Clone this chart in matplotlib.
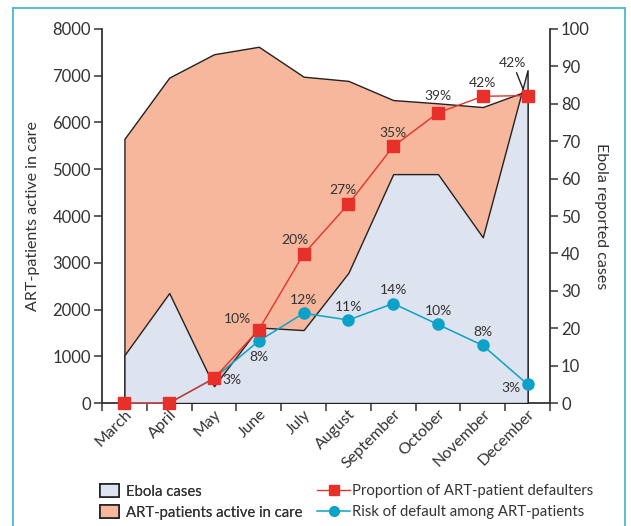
import matplotlib
matplotlib.use("Agg")
import matplotlib.pyplot as plt
from matplotlib.lines import Line2D
from matplotlib.patches import Patch

plt.rcParams["font.family"] = ["Lato", "DejaVu Sans"]

months = ["March", "April", "May", "June", "July", "August",
          "September", "October", "November", "December"]
art_active = [5650, 6960, 7460, 7620, 6980, 6890, 6480, 6410, 6330, 6680]
ebola_cases = [12.8, 29.4, 4.5, 20.2, 19.5, 34.8, 61.2, 61.2, 44.3, 89.0]
defaulter_pct = [0, 0, 3.3, 9.8, 19.9, 26.6, 34.3, 38.8, 41.0, 41.1]
risk_pct = [0, 0, 3.3, 8.3, 12.0, 11.1, 13.3, 10.5, 7.7, 2.5]
defaulter_labels = [None, None, None, "10%", "20%", "27%", "35%", "39%", "42%", "42%"]
risk_labels = [None, None, "3%", "8%", "12%", "11%", "14%", "10%", "8%", "3%"]

c_art = "#f7b79c"
c_ebola = "#dde3ef"
c_red = "#e8302a"
c_blue = "#0aa2c8"
c_ink = "#333333"

# label centre offsets from the marker, in points
def_offsets = [None, None, None, (-15, 8), (-6.5, 10), (-4, 10), (0, 10), (0, 12), (0, 9.5), (-8.6, 21.6)]
risk_offsets = [None, None, (13, -1.5), (0, -11.5), (0, 9.5), (0, 9.5), (0, 9.5), (0, 9.5), (0, 10), (-12, -3)]

x = list(range(len(months)))

fig = plt.figure(figsize=(6.31, 5.26), dpi=100)
ax = fig.add_axes([0.1617, 0.2338, 0.7099, 0.7111])
ax2 = ax.twinx()
ax3 = ax.twinx()

ax.fill_between(x, art_active, 0, facecolor=c_art, edgecolor="#222222", lw=1.0, zorder=1)
ax2.fill_between(x, ebola_cases, 0, facecolor=c_ebola, edgecolor="#222222", lw=1.0, zorder=1)

ax3.plot(x, risk_pct, color=c_blue, lw=1.1, marker="o", ms=8, zorder=3, clip_on=False)
ax3.plot(x, defaulter_pct, color=c_red, lw=1.0, marker="s", ms=8, zorder=4, clip_on=False)

last = len(x) - 1
for xi, v, lab, off in zip(x, defaulter_pct, defaulter_labels, def_offsets):
    if lab is None:
        continue
    if xi == last:
        ax3.annotate(lab, (xi - 0.07, v + 0.4), xytext=off, textcoords="offset points",
                     ha="center", va="center", fontsize=10, color=c_ink,
                     arrowprops=dict(arrowstyle="-", color="#222222", lw=1.0,
                                     shrinkA=1, shrinkB=0))
    else:
        ax3.annotate(lab, (xi, v), xytext=off, textcoords="offset points",
                     ha="center", va="center", fontsize=10, color=c_ink)

for xi, v, lab, off in zip(x, risk_pct, risk_labels, risk_offsets):
    if lab is None:
        continue
    ax3.annotate(lab, (xi, v), xytext=off, textcoords="offset points",
                 ha="center", va="center", fontsize=10, color=c_ink)

ax.set_xlim(-0.5, len(months) - 0.5)
ax.set_ylim(0, 8000)
ax2.set_ylim(0, 100)
ax3.set_ylim(0, 50)
ax3.axis("off")

ax.set_yticks(range(0, 8001, 1000))
ax2.set_yticks(range(0, 101, 10))
ax.set_xticks(x)
ax.set_xticklabels(months, rotation=45, ha="right", rotation_mode="anchor")
ax.set_xticks([i - 0.5 for i in range(len(months) + 1)], minor=True)
ax.tick_params(axis="x", which="major", length=0, pad=3, labelsize=11.5, labelcolor=c_ink)
ax.tick_params(axis="x", which="minor", length=6, width=1.1, color=c_ink, direction="out")
ax.tick_params(axis="y", length=6, width=1.1, color=c_ink, labelsize=12, labelcolor=c_ink, pad=2)
ax2.tick_params(axis="y", length=6, width=1.1, color=c_ink, labelsize=12, labelcolor=c_ink, pad=2)

for a in (ax, ax2):
    a.spines["top"].set_visible(False)
    for s in ("left", "right", "bottom"):
        a.spines[s].set_color(c_ink)
        a.spines[s].set_linewidth(1.3)
ax2.spines["left"].set_visible(False)
ax2.spines["bottom"].set_visible(False)
ax.spines["right"].set_visible(False)

ax.set_ylabel("ART-patients active in care", fontsize=11.5, color=c_ink, labelpad=9)
ax2.set_ylabel("Ebola reported cases", fontsize=11.5, color=c_ink, rotation=270, labelpad=13)

area_handles = [
    Patch(facecolor=c_ebola, edgecolor="#222222", lw=1.2),
    Patch(facecolor=c_art, edgecolor="#222222", lw=1.2),
]
line_handles = [
    Line2D([], [], color=c_red, lw=1.0, marker="s", ms=7),
    Line2D([], [], color=c_blue, lw=1.1, marker="o", ms=7),
]
leg1 = fig.legend(area_handles, ["Ebola cases", "ART-patients active in care"],
                  loc="upper left", bbox_to_anchor=(0.158, 0.079), frameon=False,
                  fontsize=10.7, labelcolor=c_ink, handlelength=1.3, handleheight=0.9,
                  handletextpad=0.5, labelspacing=0.45, borderpad=0, borderaxespad=0)
fig.add_artist(leg1)
fig.legend(line_handles, ["Proportion of ART-patient defaulters",
                          "Risk of default among ART-patients"],
           loc="upper left", bbox_to_anchor=(0.503, 0.079), frameon=False,
           fontsize=10.7, labelcolor=c_ink, handlelength=2.2,
           handletextpad=0.15, labelspacing=0.45, borderpad=0, borderaxespad=0)

# frame around the figure (open at the bottom)
frame_kw = dict(color="#4db8d4", lw=1.3, transform=fig.transFigure)
fig.add_artist(Line2D([0.0206, 0.0206], [0.0, 0.9848], **frame_kw))
fig.add_artist(Line2D([0.0206, 0.9905], [0.9848, 0.9848], **frame_kw))
fig.add_artist(Line2D([0.9905, 0.9905], [0.0, 0.9848], **frame_kw))

fig.savefig("out.png", dpi=100)
